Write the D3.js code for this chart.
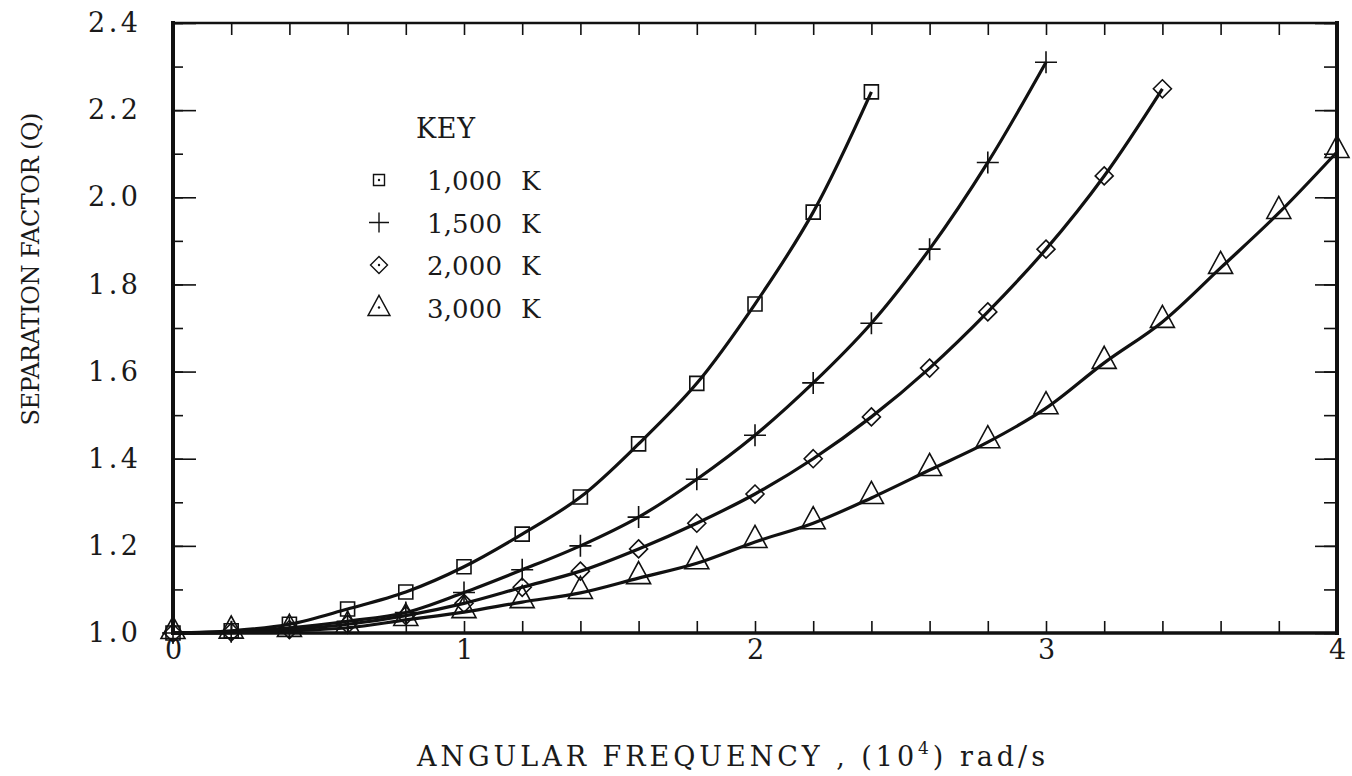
<!DOCTYPE html>
<html>
<head>
<meta charset="utf-8">
<script src="https://cdn.jsdelivr.net/npm/d3@7"></script>
<style>
  body { margin: 0; background: #fff; }
  svg { display: block; }
  text { font-family: "DejaVu Serif", "Liberation Serif", serif; fill: #1a1a1a; }
</style>
</head>
<body>
<div id="chart"></div>
<script>
// data
const xStep = [0, 0.2, 0.4, 0.6, 0.8, 1.0, 1.2, 1.4, 1.6, 1.8, 2.0, 2.2, 2.4, 2.6, 2.8, 3.0, 3.2, 3.4, 3.6, 3.8, 4.0];
const q1000 = [1.0, 1.005, 1.02, 1.055, 1.094, 1.152, 1.227, 1.312, 1.434, 1.573, 1.755, 1.966, 2.242];
const q1500 = [1.0, 1.003, 1.012, 1.027, 1.047, 1.093, 1.145, 1.2, 1.266, 1.353, 1.454, 1.574, 1.711, 1.881, 2.08, 2.31];
const q2000 = [1.0, 1.002, 1.008, 1.02, 1.04, 1.068, 1.105, 1.142, 1.193, 1.252, 1.319, 1.40, 1.496, 1.608, 1.737, 1.881, 2.049, 2.249];
const q3000 = [1.0, 1.001, 1.005, 1.012, 1.03, 1.048, 1.071, 1.092, 1.126, 1.16, 1.209, 1.252, 1.31, 1.374, 1.438, 1.516, 1.62, 1.714, 1.838, 1.964, 2.104];
const seriesNames = ["1,000", "1,500", "2,000", "3,000"];
const seriesSymbols = ["square", "plus", "diamond", "triangle"];
const xLabels = [0, 1, 2, 3, 4];
const yLabels = [1.0, 1.2, 1.4, 1.6, 1.8, 2.0, 2.2, 2.4];

const W = 1352, H = 776;
const m = { left: 173, right: 15, top: 23, bottom: 143 };

const svg = d3.select("#chart").append("svg")
    .attr("width", W)
    .attr("height", H);

const x = d3.scaleLinear().domain([0, 4]).range([m.left, W - m.right]);
const y = d3.scaleLinear().domain([1.0, 2.4]).range([H - m.bottom, m.top]);

const series = [q1000, q1500, q2000, q3000].map((vals, i) => ({
    name: seriesNames[i],
    symbol: seriesSymbols[i],
    points: vals.map((v, j) => [xStep[j], v])
}));

// axes
const minorX = d3.range(0, 4.0001, 0.2);
const minorY = d3.range(1.0, 2.4001, 0.1);

const styleAxis = g => {
    g.select(".domain").remove();
    g.selectAll(".tick line").attr("stroke", "#111").attr("stroke-width", 1.6);
    g.selectAll("text").style("font-size", "27px").attr("fill", "#1a1a1a");
};

svg.append("g")
    .attr("transform", `translate(0,${y(1.0)})`)
    .call(d3.axisBottom(x).tickValues(minorX).tickSize(-12).tickFormat(""))
    .call(styleAxis);
svg.append("g")
    .attr("transform", `translate(0,${y(1.0)})`)
    .call(d3.axisBottom(x).tickValues(xLabels).tickSize(0).tickPadding(7).tickFormat(d3.format("d")))
    .call(styleAxis);
svg.append("g")
    .attr("transform", `translate(0,${y(2.4)})`)
    .call(d3.axisTop(x).tickValues(minorX).tickSize(-12).tickFormat(""))
    .call(styleAxis);

svg.append("g")
    .attr("transform", `translate(${x(0)},0)`)
    .call(d3.axisLeft(y).tickValues(minorY).tickSize(-10).tickFormat(""))
    .call(styleAxis);
svg.append("g")
    .attr("transform", `translate(${x(0)},0)`)
    .call(d3.axisLeft(y).tickValues(yLabels).tickSize(-23).tickPadding(35).tickFormat(d3.format(".1f")))
    .call(styleAxis)
    .call(g => g.selectAll("text").attr("textLength", 50).attr("lengthAdjust", "spacing"));
svg.append("g")
    .attr("transform", `translate(${x(4)},0)`)
    .call(d3.axisRight(y).tickValues(minorY).tickSize(-13).tickFormat(""))
    .call(styleAxis);
svg.append("g")
    .attr("transform", `translate(${x(4)},0)`)
    .call(d3.axisRight(y).tickValues(yLabels).tickSize(-22).tickFormat(""))
    .call(styleAxis);

// frame
const frame = svg.append("g").attr("stroke", "#111").attr("stroke-linecap", "square");
frame.append("line").attr("x1", x(0)).attr("x2", x(4)).attr("y1", y(2.4)).attr("y2", y(2.4)).attr("stroke-width", 2.5);
frame.append("line").attr("x1", x(0)).attr("x2", x(4)).attr("y1", y(1.0)).attr("y2", y(1.0)).attr("stroke-width", 3.5);
frame.append("line").attr("x1", x(0)).attr("x2", x(0)).attr("y1", y(1.0)).attr("y2", y(2.4)).attr("stroke-width", 4);
frame.append("line").attr("x1", x(4)).attr("x2", x(4)).attr("y1", y(1.0)).attr("y2", y(2.4)).attr("stroke-width", 4);

// curves
const line = d3.line()
    .x(d => x(d[0]))
    .y(d => y(d[1]))
    .curve(d3.curveCatmullRom.alpha(0.5));

svg.selectAll(".curve")
    .data(series)
    .enter().append("path")
    .classed("curve", true)
    .attr("d", d => line(d.points))
    .attr("fill", "none")
    .attr("stroke", "#111")
    .attr("stroke-width", 3.2);

// markers
function symbolPath(type, s) {
    if (type === "square") return `M${-s / 2},${-s / 2}h${s}v${s}h${-s}Z`;
    if (type === "plus") return `M${-s / 2},0h${s}M0,${-s / 2}v${s}`;
    if (type === "diamond") return `M0,${-s / 2}L${s / 2},0L0,${s / 2}L${-s / 2},0Z`;
    // triangle, point sits low inside the triangle
    const h = s * 0.92;
    return `M0,${-h * 0.75}L${s / 2},${h * 0.25}L${-s / 2},${h * 0.25}Z`;
}
const markerSize = { square: 14, plus: 22, diamond: 18, triangle: 24 };

series.forEach(s => {
    svg.append("g").selectAll("path")
        .data(s.points)
        .enter().append("path")
        .attr("transform", d => `translate(${x(d[0])},${y(d[1])})`)
        .attr("d", symbolPath(s.symbol, markerSize[s.symbol]))
        .attr("fill", "none")
        .attr("stroke", "#111")
        .attr("stroke-width", 1.6);
});

// legend
const legend = svg.append("g");
legend.append("text")
    .attr("x", 416).attr("y", 138)
    .attr("textLength", 59)
    .attr("lengthAdjust", "spacing")
    .style("font-size", "27px")
    .text("KEY");

const legendSize = { square: 11, plus: 20, diamond: 17, triangle: 22 };
const rowY = [180, 222.5, 265, 307.5];
series.forEach((s, i) => {
    const row = legend.append("g").attr("transform", `translate(0,${rowY[i]})`);
    row.append("path")
        .attr("transform", s.symbol === "triangle" ? "translate(379,3)" : "translate(379,0)")
        .attr("d", symbolPath(s.symbol, legendSize[s.symbol]))
        .attr("fill", "none")
        .attr("stroke", "#111")
        .attr("stroke-width", 1.4);
    if (s.symbol !== "plus") {
        row.append("circle").attr("cx", 379).attr("cy", 0).attr("r", 1.2).attr("fill", "#111");
    }
    row.append("text")
        .attr("x", 427).attr("y", 10)
        .attr("textLength", 75)
        .attr("lengthAdjust", "spacing")
        .style("font-size", "26px")
        .text(s.name);
    row.append("text")
        .attr("x", 521).attr("y", 10)
        .style("font-size", "26px")
        .text("K");
});

// axis titles
svg.append("text")
    .attr("transform", `translate(39,${269}) rotate(-90)`)
    .attr("text-anchor", "middle")
    .attr("textLength", 313)
    .attr("lengthAdjust", "spacing")
    .style("font-size", "24px")
    .text("SEPARATION FACTOR (Q)");

const xt = svg.append("text")
    .attr("x", 417).attr("y", 766)
    .attr("textLength", 628)
    .attr("lengthAdjust", "spacing")
    .style("font-size", "27px");
xt.append("tspan").text("ANGULAR FREQUENCY , (10");
xt.append("tspan").attr("dy", -12).style("font-size", "17px").text("4");
xt.append("tspan").attr("dy", 12).text(") rad/s");
</script>
</body>
</html>
